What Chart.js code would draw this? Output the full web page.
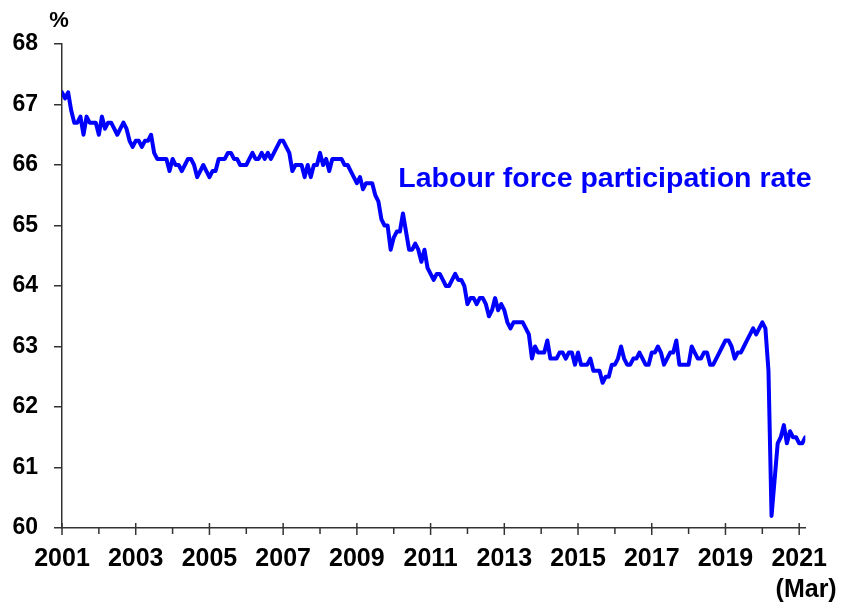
<!DOCTYPE html>
<html>
<head>
<meta charset="utf-8">
<script src="https://cdn.jsdelivr.net/npm/chart.js@4"></script>
<style>
  html, body { margin: 0; padding: 0; background: #fff; }
</style>
</head>
<body>
<canvas id="myChart" width="852" height="602"></canvas>
<script>
// monthly participation rate, Jan 2001 - Mar 2021 (%)
const r2001 = [67.2, 67.1, 67.2, 66.9, 66.7, 66.7, 66.8, 66.5, 66.8, 66.7, 66.7, 66.7];
const r2002 = [66.5, 66.8, 66.6, 66.7, 66.7, 66.6, 66.5, 66.6, 66.7, 66.6, 66.4, 66.3];
const r2003 = [66.4, 66.4, 66.3, 66.4, 66.4, 66.5, 66.2, 66.1, 66.1, 66.1, 66.1, 65.9];
const r2004 = [66.1, 66.0, 66.0, 65.9, 66.0, 66.1, 66.1, 66.0, 65.8, 65.9, 66.0, 65.9];
const r2005 = [65.8, 65.9, 65.9, 66.1, 66.1, 66.1, 66.2, 66.2, 66.1, 66.1, 66.0, 66.0];
const r2006 = [66.0, 66.1, 66.2, 66.1, 66.1, 66.2, 66.1, 66.2, 66.1, 66.2, 66.3, 66.4];
const r2007 = [66.4, 66.3, 66.2, 65.9, 66.0, 66.0, 66.0, 65.8, 66.0, 65.8, 66.0, 66.0];
const r2008 = [66.2, 66.0, 66.1, 65.9, 66.1, 66.1, 66.1, 66.1, 66.0, 66.0, 65.9, 65.8];
const r2009 = [65.7, 65.8, 65.6, 65.7, 65.7, 65.7, 65.5, 65.4, 65.1, 65.0, 65.0, 64.6];
const r2010 = [64.8, 64.9, 64.9, 65.2, 64.9, 64.6, 64.6, 64.7, 64.6, 64.4, 64.6, 64.3];
const r2011 = [64.2, 64.1, 64.2, 64.2, 64.1, 64.0, 64.0, 64.1, 64.2, 64.1, 64.1, 64.0];
const r2012 = [63.7, 63.8, 63.8, 63.7, 63.8, 63.8, 63.7, 63.5, 63.6, 63.8, 63.6, 63.7];
const r2013 = [63.6, 63.4, 63.3, 63.4, 63.4, 63.4, 63.4, 63.3, 63.2, 62.8, 63.0, 62.9];
const r2014 = [62.9, 62.9, 63.1, 62.8, 62.8, 62.8, 62.9, 62.9, 62.8, 62.9, 62.9, 62.7];
const r2015 = [62.9, 62.7, 62.7, 62.7, 62.8, 62.6, 62.6, 62.6, 62.4, 62.5, 62.5, 62.7];
const r2016 = [62.7, 62.8, 63.0, 62.8, 62.7, 62.7, 62.8, 62.8, 62.9, 62.8, 62.7, 62.7];
const r2017 = [62.9, 62.9, 63.0, 62.9, 62.7, 62.8, 62.9, 62.9, 63.1, 62.7, 62.7, 62.7];
const r2018 = [62.7, 63.0, 62.9, 62.8, 62.8, 62.9, 62.9, 62.7, 62.7, 62.8, 62.9, 63.0];
const r2019 = [63.1, 63.1, 63.0, 62.8, 62.9, 62.9, 63.0, 63.1, 63.2, 63.3, 63.2, 63.3];
const r2020 = [63.4, 63.3, 62.6, 60.2, 60.8, 61.4, 61.5, 61.7, 61.4, 61.6, 61.5, 61.5];
const r2021 = [61.4, 61.4, 61.5];

const rate = [].concat(r2001, r2002, r2003, r2004, r2005, r2006, r2007, r2008, r2009, r2010,
  r2011, r2012, r2013, r2014, r2015, r2016, r2017, r2018, r2019, r2020, r2021);

const firstYear = 2001;
const labelledYears = [2001, 2003, 2005, 2007, 2009, 2011, 2013, 2015, 2017, 2019, 2021];
const lastMonthNote = '(Mar)';
const seriesLabel = 'Labour force participation rate';

const axisMarks = {
  id: 'axisMarks',
  afterDraw(chart) {
    const { ctx, scales: { x, y } } = chart;
    const base = y.getPixelForValue(60);
    ctx.save();
    ctx.strokeStyle = '#333';
    ctx.lineWidth = 1.5;
    for (let m = 0; m <= 240; m += 12) {
      const px = x.getPixelForValue(m);
      const major = labelledYears.includes(firstYear + m / 12);
      ctx.beginPath();
      ctx.moveTo(px, major ? base - 5 : base);
      ctx.lineTo(px, major ? base + 7 : base + 6);
      ctx.stroke();
    }
    ctx.fillStyle = '#000';
    ctx.font = 'bold 22px "Liberation Sans", Arial, sans-serif';
    ctx.textAlign = 'center';
    ctx.textBaseline = 'middle';
    ctx.fillText('%', x.left - 3, y.top - 23);

    ctx.fillStyle = '#0000ff';
    ctx.font = 'bold 28.5px "Liberation Sans", Arial, sans-serif';
    ctx.textAlign = 'left';
    ctx.textBaseline = 'alphabetic';
    ctx.fillText(seriesLabel, x.getPixelForValue(109.5), y.getPixelForValue(65.64));
    ctx.restore();
  }
};

const ctx = document.getElementById('myChart');

new Chart(ctx, {
  type: 'line',
  data: {
    datasets: [{
      label: seriesLabel,
      data: rate.map((v, i) => ({ x: i, y: v })),
      borderColor: '#0000ff',
      borderWidth: 4,
      pointRadius: 0,
      tension: 0,
      borderJoinStyle: 'round',
      borderCapStyle: 'round',
    }],
  },
  options: {
    responsive: false,
    animation: false,
    layout: { padding: { top: 44, right: 38, left: 0, bottom: 0 } },
    plugins: {
      legend: { display: false },
      tooltip: { enabled: false },
    },
    scales: {
      x: {
        type: 'linear',
        min: 0,
        max: 242,
        grid: { display: false, drawTicks: false },
        border: { display: true, color: '#333', width: 1.5 },
        ticks: {
          stepSize: 12,
          includeBounds: false,
          autoSkip: false,
          maxRotation: 0,
          padding: 15,
          color: '#000',
          font: { family: '"Liberation Sans", Arial, sans-serif', size: 25, weight: 'bold', lineHeight: 1.25 },
          callback: (v) => {
            const yr = firstYear + v / 12;
            if (!labelledYears.includes(yr)) return '';
            if (yr === 2021) return [String(yr), '  ' + lastMonthNote];
            return String(yr);
          },
        },
        afterFit: (s) => { s.height = 74; },
      },
      y: {
        min: 60,
        max: 68,
        grid: { drawOnChartArea: false, tickLength: 8, color: '#333', lineWidth: 1.5 },
        border: { display: true, color: '#333', width: 1.5 },
        ticks: {
          stepSize: 1,
          padding: 16,
          color: '#000',
          font: { family: '"Liberation Sans", Arial, sans-serif', size: 23, weight: 'bold' },
        },
        afterFit: (s) => { s.width = 62; },
      },
    },
  },
  plugins: [axisMarks],
});
</script>
</body>
</html>
